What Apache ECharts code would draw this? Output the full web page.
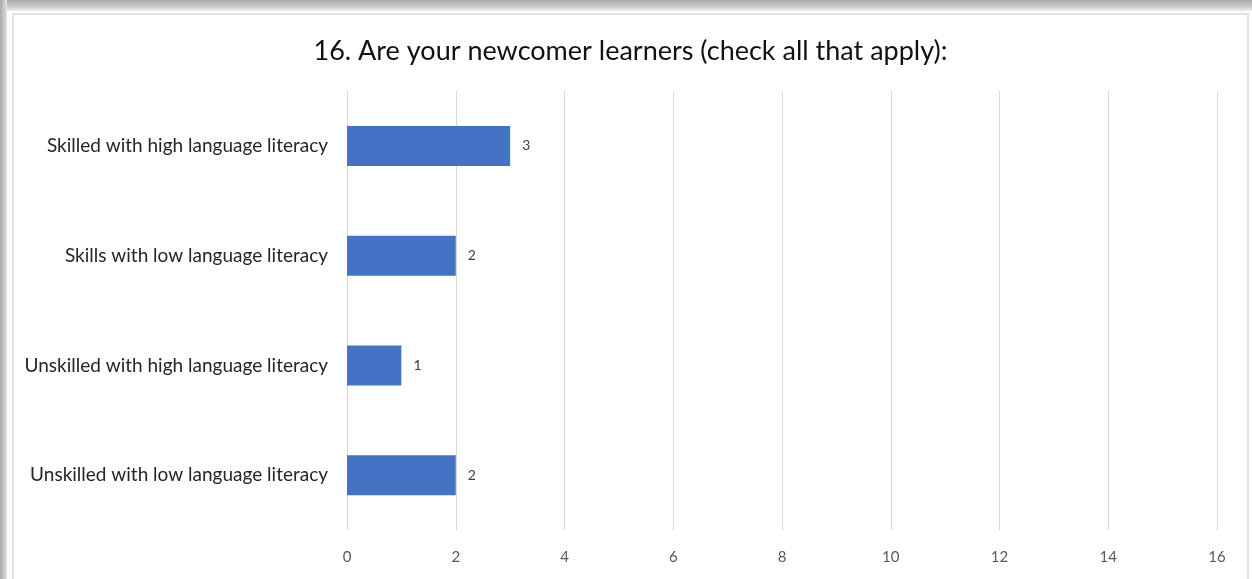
<!DOCTYPE html>
<html>
<head>
<meta charset="utf-8">
<script src="https://cdn.jsdelivr.net/npm/echarts@6/dist/echarts.min.js"></script>
<style>
  html, body { margin: 0; padding: 0; width: 1252px; height: 579px; overflow: hidden; background: #ffffff; }
  #shadowTop { position: absolute; left: 0; top: 0; width: 1252px; height: 11px;
    background: linear-gradient(to bottom, #a9a9a9, #d2d2d2 70%, #ececec); }
  #shadowLeft { position: absolute; left: 0; top: 0; width: 7px; height: 579px;
    background: linear-gradient(to right, #a9a9a9, #cfcfcf 70%, #e6e6e6); }
  #frame { position: absolute; left: 12px; top: 13px; width: 1237px; height: 570px;
    border: 2px solid #e2e2e2; background: #ffffff; box-sizing: border-box; }
  #chart { position: absolute; left: 14px; top: 15px; width: 1233px; height: 564px; }
</style>
</head>
<body>
<div id="shadowTop"></div>
<div id="shadowLeft"></div>
<div id="frame"></div>
<div id="chart"></div>
<script>
// Survey question 16: type of newcomer learners (multiple answers allowed)
const titleText = '16. Are your newcomer learners (check all that apply):';
const categories = [
  'Skilled with high language literacy',
  'Skills with low language literacy',
  'Unskilled with high language literacy',
  'Unskilled with low language literacy'
];
const counts = [3, 2, 1, 2];
const axisMin = 0;
const axisMax = 16;
const axisStep = 2;

const chart = echarts.init(document.getElementById('chart'), null, { renderer: 'canvas' });
chart.setOption({
  animation: false,
  backgroundColor: 'transparent',
  title: {
    text: titleText,
    left: 'center',
    top: 18,
    textStyle: { fontFamily: 'Lato', fontSize: 27, fontWeight: 'normal', color: '#111111' }
  },
  grid: { left: 333, right: 30, top: 76, bottom: 49, containLabel: false },
  xAxis: {
    type: 'value',
    min: axisMin,
    max: axisMax,
    interval: axisStep,
    axisLine: { show: false },
    axisTick: { show: false },
    splitLine: { show: true, lineStyle: { color: '#d9d9d9', width: 1 } },
    axisLabel: { color: '#595959', fontFamily: 'Lato', fontSize: 15, margin: 20 }
  },
  yAxis: {
    type: 'category',
    data: categories,
    inverse: true,
    axisLine: { show: false },
    axisTick: { show: false },
    axisLabel: { color: '#262626', fontFamily: 'Lato', fontSize: 19, margin: 19 }
  },
  series: [{
    type: 'bar',
    data: counts,
    barWidth: 40,
    itemStyle: { color: '#4472C4' },
    label: {
      show: true,
      position: 'right',
      distance: 12,
      color: '#404040',
      fontFamily: 'Lato',
      fontSize: 14
    }
  }]
});
</script>
</body>
</html>
